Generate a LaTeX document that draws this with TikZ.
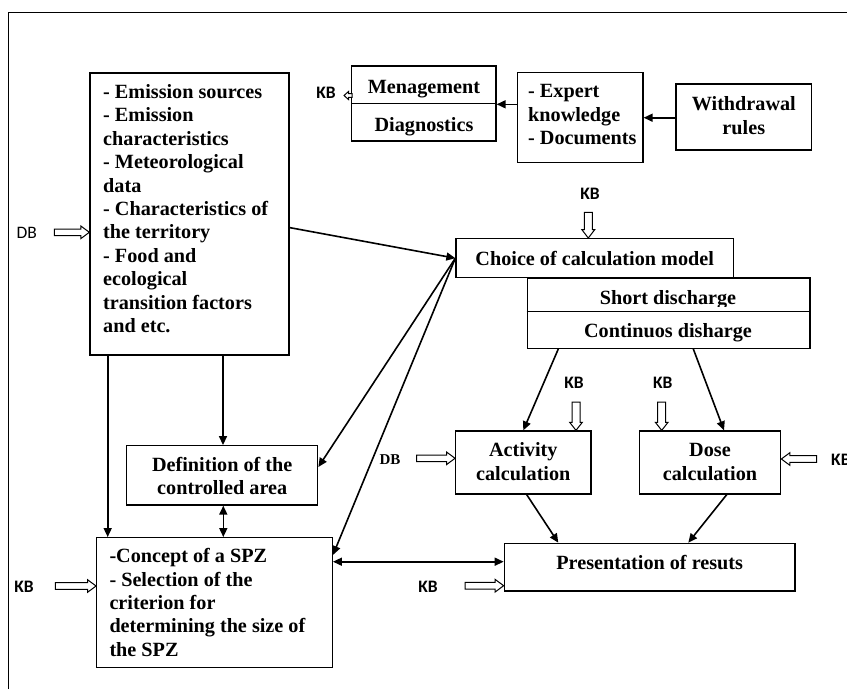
\documentclass[tikz,border=0pt]{standalone}
\usepackage{fontspec}
\setmainfont{Liberation Serif}
\newfontfamily\kbfont{Carlito}
\usetikzlibrary{arrows.meta,calc}
\newcommand\hollowarr[6]{\draw[hollow, shift={(#1)}, rotate=#2] (0,0) -- (-#4,#5) -- (-#4,#6) -- (-#3,#6) -- (-#3,-#6) -- (-#4,-#6) -- (-#4,-#5) -- cycle;}
\begin{document}
\begin{tikzpicture}[x=1pt,y=-1pt,
  box/.style={draw, line width=1.3pt, inner sep=0pt},
  boxline/.style={line width=1.3pt},
  txt/.style={inner sep=0pt, font=\bfseries\fontsize{20.2}{23.4}\selectfont},
  kb/.style={inner sep=0pt, font=\kbfont\bfseries\fontsize{17.5}{20}\selectfont},
  db/.style={inner sep=0pt, font=\kbfont\fontsize{17.5}{20}\selectfont},
  arr/.style={line width=1.6pt, -{Triangle[length=9pt,width=8pt]}},
  darr/.style={line width=1.6pt, {Triangle[length=9pt,width=8pt]}-{Triangle[length=9pt,width=8pt]}},
  hollow/.style={draw, line width=1pt, fill=white, line join=miter},
  frame/.style={line width=1.3pt}]
\useasboundingbox (0,0) rectangle (847,689);
\draw[frame] (8.7,689) -- (8.7,12.3) -- (847,12.3);

% boxes
\node[box, minimum width=199pt, minimum height=282pt] (em) at (189.5,214) {};
\node[box, minimum width=144.3pt, minimum height=75pt] (mg) at (423.85,103.5) {};
\node[box, minimum width=125.7pt, minimum height=90pt] (exp) at (580.15,117.7) {};
\node[box, minimum width=135.7pt, minimum height=66pt] (wd) at (743.85,117) {};
\node[box, minimum width=277.3pt, minimum height=39pt] (choice) at (594.65,258.2) {};
\node[box, minimum width=282.7pt, minimum height=70.3pt] (dis) at (668.65,313.15) {};
\node[box, minimum width=135.3pt, minimum height=63pt] (act) at (523.35,462.5) {};
\node[box, minimum width=141.4pt, minimum height=63pt] (dose) at (710,462.5) {};
\node[box, minimum width=290.7pt, minimum height=47.7pt] (pres) at (649.65,567.15) {};
\node[box, minimum width=191pt, minimum height=59.3pt] (def) at (222.2,475.35) {};
\node[box, minimum width=235.6pt, minimum height=130pt] (spz) at (214.5,602.7) {};
\draw[boxline] (mg.west) -- (mg.east);
\draw[boxline] (dis.west |- 0,311.7) -- (dis.east |- 0,311.7);

% texts (anchor base = baseline of the last line)
\node[txt, anchor=base west, align=left] (emt) at (103,332.5) {- Emission sources\\- Emission\\characteristics\\- Meteorological\\data\\- Characteristics of\\the territory\\- Food and\\ecological\\transition factors\\and etc.};
\node[txt, anchor=base] (mgt) at (424,93.5) {Menagement};
\node[txt, anchor=base] (dgt) at (424,131) {Diagnostics};
\node[txt, anchor=base west, align=left] (expt) at (528,144.5) {- Expert\\knowledge\\- Documents};
\node[txt, anchor=base, align=center] (wdt) at (743.8,134.1) {Withdrawal\\rules};
\node[txt, anchor=base] (cht) at (594.7,265.7) {Choice of calculation model};
\begin{scope}
\clip (528,280) rectangle (809,306);
\node[txt, anchor=base] (sdt) at (668,304.3) {Short discharge};
\end{scope}
\node[txt, anchor=base] (cdt) at (668,337.7) {Continuos disharge};
\node[txt, anchor=base, align=center] (actt) at (523.3,480.1) {Activity\\calculation};
\node[txt, anchor=base, align=center] (doset) at (710,480.1) {Dose\\calculation};
\node[txt, anchor=base] (prest) at (649.7,569.3) {Presentation of resuts};
\node[txt, anchor=base, align=center] (deft) at (222.2,494.4) {Definition of the\\controlled area};
\node[txt, anchor=base west, align=left] (spzt) at (109.3,656.3) {-Concept of a SPZ\\- Selection of the\\criterion for\\determining the size of\\the SPZ};

% labels
\node[db] (dbl) at (26.7,233.3) {DB};
\node[kb] (kbl) at (24,586.7) {KB};
\node[kb] (kbp) at (428,586.7) {KB};
\node[kb] (kba) at (574,382.7) {KB};
\node[kb] (kbd) at (662.7,382.7) {KB};
\node[kb, anchor=west] (kbr) at (831,460) {KB};
\node[kb] (kbc) at (590,194) {KB};
\node[kb] (kbm) at (326,93.3) {KB};
\node[inner sep=0pt, font=\bfseries\fontsize{15}{17}\selectfont] (dbm) at (390,460) {DB};

% connectors
\draw[arr] (em.south -| 107.7,0) -- (spz.north -| 107.7,0);
\draw[arr] (em.south -| 223,0) -- (def.north -| 223,0);
\draw[darr] (def.south -| 223.3,0) -- (spz.north -| 223.3,0);
\draw[arr] (em.east |- 0,227.6) -- (choice.west);
\draw[arr] (choice.west) -- (def.east |- 0,467);
\draw[arr] (choice.west) -- (spz.east |- 0,555);
\draw[darr] (spz.east |- 0,561.7) -- (pres.west |- 0,561.7);
\draw[arr] (exp.west |- 0,104.3) -- (mg.east |- 0,104.3);
\draw[arr] (wd.west |- 0,117.7) -- (exp.east |- 0,117.7);
\draw[arr] (dis.south -| 558.3,0) -- (act.north -| 523.3,0);
\draw[arr] (dis.south -| 693.3,0) -- (dose.north -| 724,0);
\draw[arr] (act.south -| 526.7,0) -- (pres.north -| 558.3,0);
\draw[arr] (dose.south -| 726.7,0) -- (pres.north -| 688.3,0);

% hollow arrows
\hollowarr{em.west |- 0,232.3}{0}{35}{8.5}{6.3}{3.3}
\hollowarr{spz.west |- 0,586}{0}{40.7}{8.5}{6.3}{3.3}
\hollowarr{pres.west |- 0,585.7}{0}{38.6}{8.5}{6.3}{3.3}
\hollowarr{dose.east |- 0,459}{180}{35.3}{8.5}{6.3}{3.3}
\hollowarr{act.west |- 0,458.3}{0}{38.4}{8.5}{6.3}{3.3}
\hollowarr{act.north -| 576,0}{-90}{28.3}{8}{6.3}{4}
\hollowarr{dose.north -| 661.7,0}{-90}{28.3}{8}{6.3}{4}
\hollowarr{choice.north -| 588.3,0}{-90}{25.7}{8.5}{6.5}{4}
\hollowarr{344,95.5}{180}{8}{4.5}{4}{1.8}
\end{tikzpicture}
\end{document}
